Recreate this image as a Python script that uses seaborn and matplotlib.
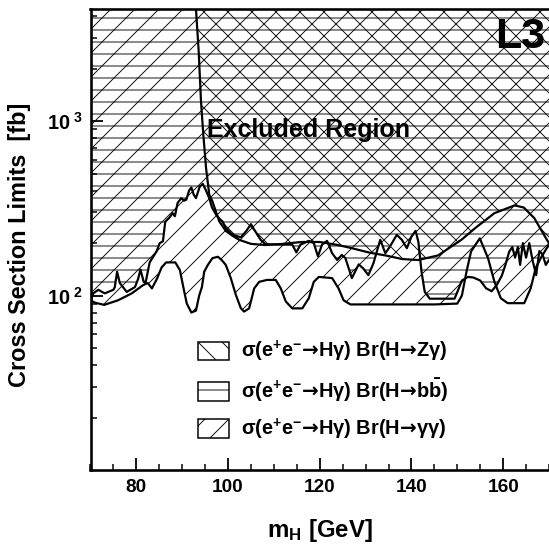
import numpy as np
import pandas as pd
import matplotlib
matplotlib.use("Agg")
import matplotlib.pyplot as plt
import seaborn as sns
from matplotlib.patches import Patch
from matplotlib.ticker import MultipleLocator, FixedLocator, NullFormatter, LogLocator

# ---------------- data ----------------
# H -> Z gamma limit (boundary of excluded region)
zg_mass = [92.9, 93.0, 93.6, 94.1, 94.6, 95.2, 95.9, 96.6, 97.4, 98.1, 99.5, 101.0, 102.4,
           105.0, 108.0, 112.0, 116.0, 120.0, 124.0, 127.0, 131.0, 134.3, 138.0, 141.5,
           145.8, 150.9, 154.0, 158.1, 162.5, 164.5, 166.8, 169.3, 170.0]
zg_limit = [10000, 4400, 2500, 1300, 840, 540, 379, 347, 300, 266, 235, 220, 209,
            198, 195, 198, 203, 203, 195, 187, 176, 170, 162, 160,
            170, 209, 245, 297, 329, 320, 278, 214, 200]

# H -> b bbar limit (wiggly curve)
bb_mass = [70.0, 70.6, 71.7, 73.1, 75.0, 75.3, 75.8, 76.4, 77.9, 79.7, 80.4, 80.9, 81.6,
           82.0, 82.9, 84.4, 85.1, 85.8, 86.3, 87.2, 87.9, 88.4, 89.0, 89.8, 90.4, 90.9,
           91.5, 92.0, 92.5, 93.0, 93.8, 94.5, 95.2, 95.9, 96.5, 97.4, 98.2, 98.8, 99.5,
           101.0, 102.8, 104.0, 105.0, 106.0, 107.1, 108.2, 111.8, 114.0, 114.9, 115.8,
           117.6, 118.7, 119.6, 120.5, 121.6, 122.7, 123.8, 124.8, 125.6, 127.0, 128.5,
           129.5, 130.6, 131.7, 133.2, 134.3, 135.3, 136.8, 137.9, 139.0, 140.0, 140.9,
           141.5, 142.2, 142.9, 144.0, 149.4, 150.2, 151.0, 152.3, 153.5, 155.0, 156.3,
           157.5, 158.6, 159.7, 160.5, 161.3, 162.0, 162.6, 163.2, 163.7, 164.3, 165.0,
           165.7, 166.4, 167.2, 167.9, 168.6, 169.3, 170.0]
bb_limit = [92, 103, 108, 103, 108, 112, 137, 118, 105, 112, 125, 141, 120,
            118, 155, 179, 200, 205, 265, 280, 297, 285, 340, 362, 350, 355,
            400, 417, 380, 362, 420, 437, 400, 362, 320, 291, 275, 266, 244,
            223, 216, 235, 257, 232, 209, 197, 196, 196, 177, 196,
            206, 200, 168, 196, 206, 175, 160, 171, 164, 126, 151,
            143, 131, 153, 209, 175, 191, 223, 209, 187, 218, 235,
            204, 137, 105, 96, 96, 108, 122, 128, 127, 122, 110,
            106, 115, 130, 150, 178, 190, 165, 190, 150, 200, 165,
            200, 160, 131, 180, 172, 150, 160]

# H -> gamma gamma limit (periodic bumps)
gg_mass = [70.0, 71.0, 73.0, 76.0, 79.0, 81.5, 82.5, 83.4, 84.5, 85.5, 86.5, 88.5, 89.5,
           90.3, 91.0, 92.0, 93.0, 93.7, 94.3, 94.8, 95.6, 96.6, 97.8, 98.6, 99.5,
           100.6, 101.7, 102.8, 103.5, 104.6, 105.7, 106.8, 108.5, 110.4, 111.5, 112.6,
           114.0, 116.2, 117.6, 118.7, 119.8, 122.7, 124.1, 125.2, 126.7, 135.0, 145.0,
           150.0, 151.0, 152.0, 153.0, 154.9, 156.7, 158.1, 159.5, 161.0, 164.6, 166.0,
           167.1, 168.2, 169.5, 170.0]
gg_limit = [94, 91, 88.5, 94, 103, 115, 118, 110, 125, 145, 155, 155, 140,
            110, 90, 80, 82, 100, 112, 137, 150, 164, 167, 160, 150,
            126, 101, 84.5, 81, 84.5, 110, 120, 123, 123, 110, 92.5,
            84.5, 84.5, 96.5, 120, 128, 126, 110, 94, 89, 89, 89,
            90, 100, 137, 179, 213, 164, 120, 96.5, 90.5, 90.5, 110,
            144, 164, 187, 195]

x_major = [80, 100, 120, 140, 160]
y_major = [100, 1000]
y_major_labels = ["10$^{\\ 2}$", "10$^{\\ 3}$"]

ARR = "$\\mathsf{→}$"
labels = [
    "$\\sigma$(e$^{+}$e$^{-}$" + ARR + "H$\\gamma$) Br(H" + ARR + "Z$\\gamma$)",
    "$\\sigma$(e$^{+}$e$^{-}$" + ARR + "H$\\gamma$) Br(H" + ARR + "b$\\bar{\\mathrm{b}}$)",
    "$\\sigma$(e$^{+}$e$^{-}$" + ARR + "H$\\gamma$) Br(H" + ARR + "$\\gamma\\gamma$)",
]

df_zg = pd.DataFrame({"mass": zg_mass, "limit": zg_limit})
df_bb = pd.DataFrame({"mass": bb_mass, "limit": bb_limit})
df_gg = pd.DataFrame({"mass": gg_mass, "limit": gg_limit})

# ---------------- style ----------------
sns.set_theme(style="white")
plt.rcParams["font.family"] = ["Liberation Sans", "DejaVu Sans"]
plt.rcParams["font.weight"] = "bold"
plt.rcParams["text.color"] = "black"
plt.rcParams["axes.labelcolor"] = "black"
plt.rcParams["xtick.color"] = "black"
plt.rcParams["ytick.color"] = "black"
plt.rcParams["mathtext.fontset"] = "custom"
plt.rcParams["mathtext.rm"] = "Liberation Sans:bold"
plt.rcParams["mathtext.bf"] = "Liberation Sans:bold"
plt.rcParams["mathtext.it"] = "Liberation Sans:bold"
plt.rcParams["mathtext.sf"] = "Noto Sans CJK SC"
plt.rcParams["hatch.linewidth"] = 0.9
plt.rcParams["hatch.color"] = "black"

DPI = 72
W, H = 549, 545
fig = plt.figure(figsize=(W / DPI, H / DPI), dpi=DPI)
fig.patch.set_facecolor("white")
L, R, T, B = 90.5, 549, 9, 470
ax = fig.add_axes([L / W, 1 - B / H, (R - L) / W, (B - T) / H])
ax.set_facecolor("white")

ax.set_yscale("log")
ax.set_xlim(70, 170)
ax.set_ylim(10, 4400)
ytop = ax.get_ylim()[1] * 10

# hatched exclusion regions
ax.fill_between(df_gg["mass"], df_gg["limit"], ytop, facecolor="none",
                edgecolor="black", hatch="/", linewidth=0)
ax.fill_between(df_bb["mass"], df_bb["limit"], ytop, facecolor="none",
                edgecolor="black", hatch="-", linewidth=0)
ax.fill_between(df_zg["mass"], df_zg["limit"], ytop, facecolor="none",
                edgecolor="black", hatch="\\", linewidth=0)

lw = 2.2
sns.lineplot(data=df_gg, x="mass", y="limit", ax=ax, color="black", lw=lw, estimator=None)
sns.lineplot(data=df_bb, x="mass", y="limit", ax=ax, color="black", lw=lw, estimator=None)
sns.lineplot(data=df_zg, x="mass", y="limit", ax=ax, color="black", lw=lw, estimator=None)
ax.set_xlim(70, 170)
ax.set_ylim(10, 4400)

# ticks
ax.xaxis.set_major_locator(FixedLocator(x_major))
ax.xaxis.set_minor_locator(MultipleLocator(5))
ax.yaxis.set_major_locator(FixedLocator(y_major))
ax.set_yticklabels(y_major_labels)
ax.yaxis.set_minor_locator(LogLocator(base=10, subs=np.arange(2, 10)))
ax.yaxis.set_minor_formatter(NullFormatter())
ax.tick_params(axis="both", which="major", direction="in", length=12, width=1.8,
               colors="black", labelsize=19, bottom=True, left=True, top=False, right=False)
ax.tick_params(axis="both", which="minor", direction="in", length=6, width=1.5,
               colors="black", bottom=True, left=True, top=False, right=False)
ax.tick_params(axis="x", which="major", pad=9)
ax.tick_params(axis="y", which="major", pad=8, labelsize=20)
for lab in ax.get_xticklabels() + ax.get_yticklabels():
    lab.set_fontweight("bold")

for side in ["left", "bottom", "top"]:
    ax.spines[side].set_linewidth(2.6)
    ax.spines[side].set_color("black")
ax.spines["right"].set_visible(False)

ax.set_xlabel("m$_{\\mathrm{H}}$ [GeV]", fontsize=24, fontweight="bold", va="center",
              color="black")
ax.xaxis.set_label_coords(0.5, (B - 531) / (B - T))
ax.set_ylabel("Cross Section Limits  [fb]", fontsize=23.5, fontweight="bold", va="center",
              color="black")
ax.yaxis.set_label_coords((20 - L) / (R - L), (B - 244.5) / (B - T))

ax.text((207 - L) / (R - L), (B - 129.5) / (B - T), "Excluded Region", transform=ax.transAxes,
        fontsize=25, fontweight="bold", ha="left", va="center", color="black")
ax.text((545 - L) / (R - L), (B - 37.5) / (B - T), "L3", transform=ax.transAxes,
        fontsize=43, fontweight="bold", ha="right", va="center", color="black")

handles = [
    Patch(facecolor="white", edgecolor="black", hatch="\\", linewidth=1.5, label=labels[0]),
    Patch(facecolor="white", edgecolor="black", hatch="-", linewidth=1.5, label=labels[1]),
    Patch(facecolor="white", edgecolor="black", hatch="/", linewidth=1.5, label=labels[2]),
]
leg = ax.legend(handles=handles, loc="upper left",
                bbox_to_anchor=((198 - L) / (R - L), (B - 339) / (B - T)),
                frameon=False, fontsize=20, handlelength=1.55, handleheight=1.05,
                handletextpad=0.62, labelspacing=0.62, borderpad=0, borderaxespad=0)
for t in leg.get_texts():
    t.set_fontweight("bold")
    t.set_color("black")

fig.savefig("out.png", dpi=DPI, facecolor="white")
